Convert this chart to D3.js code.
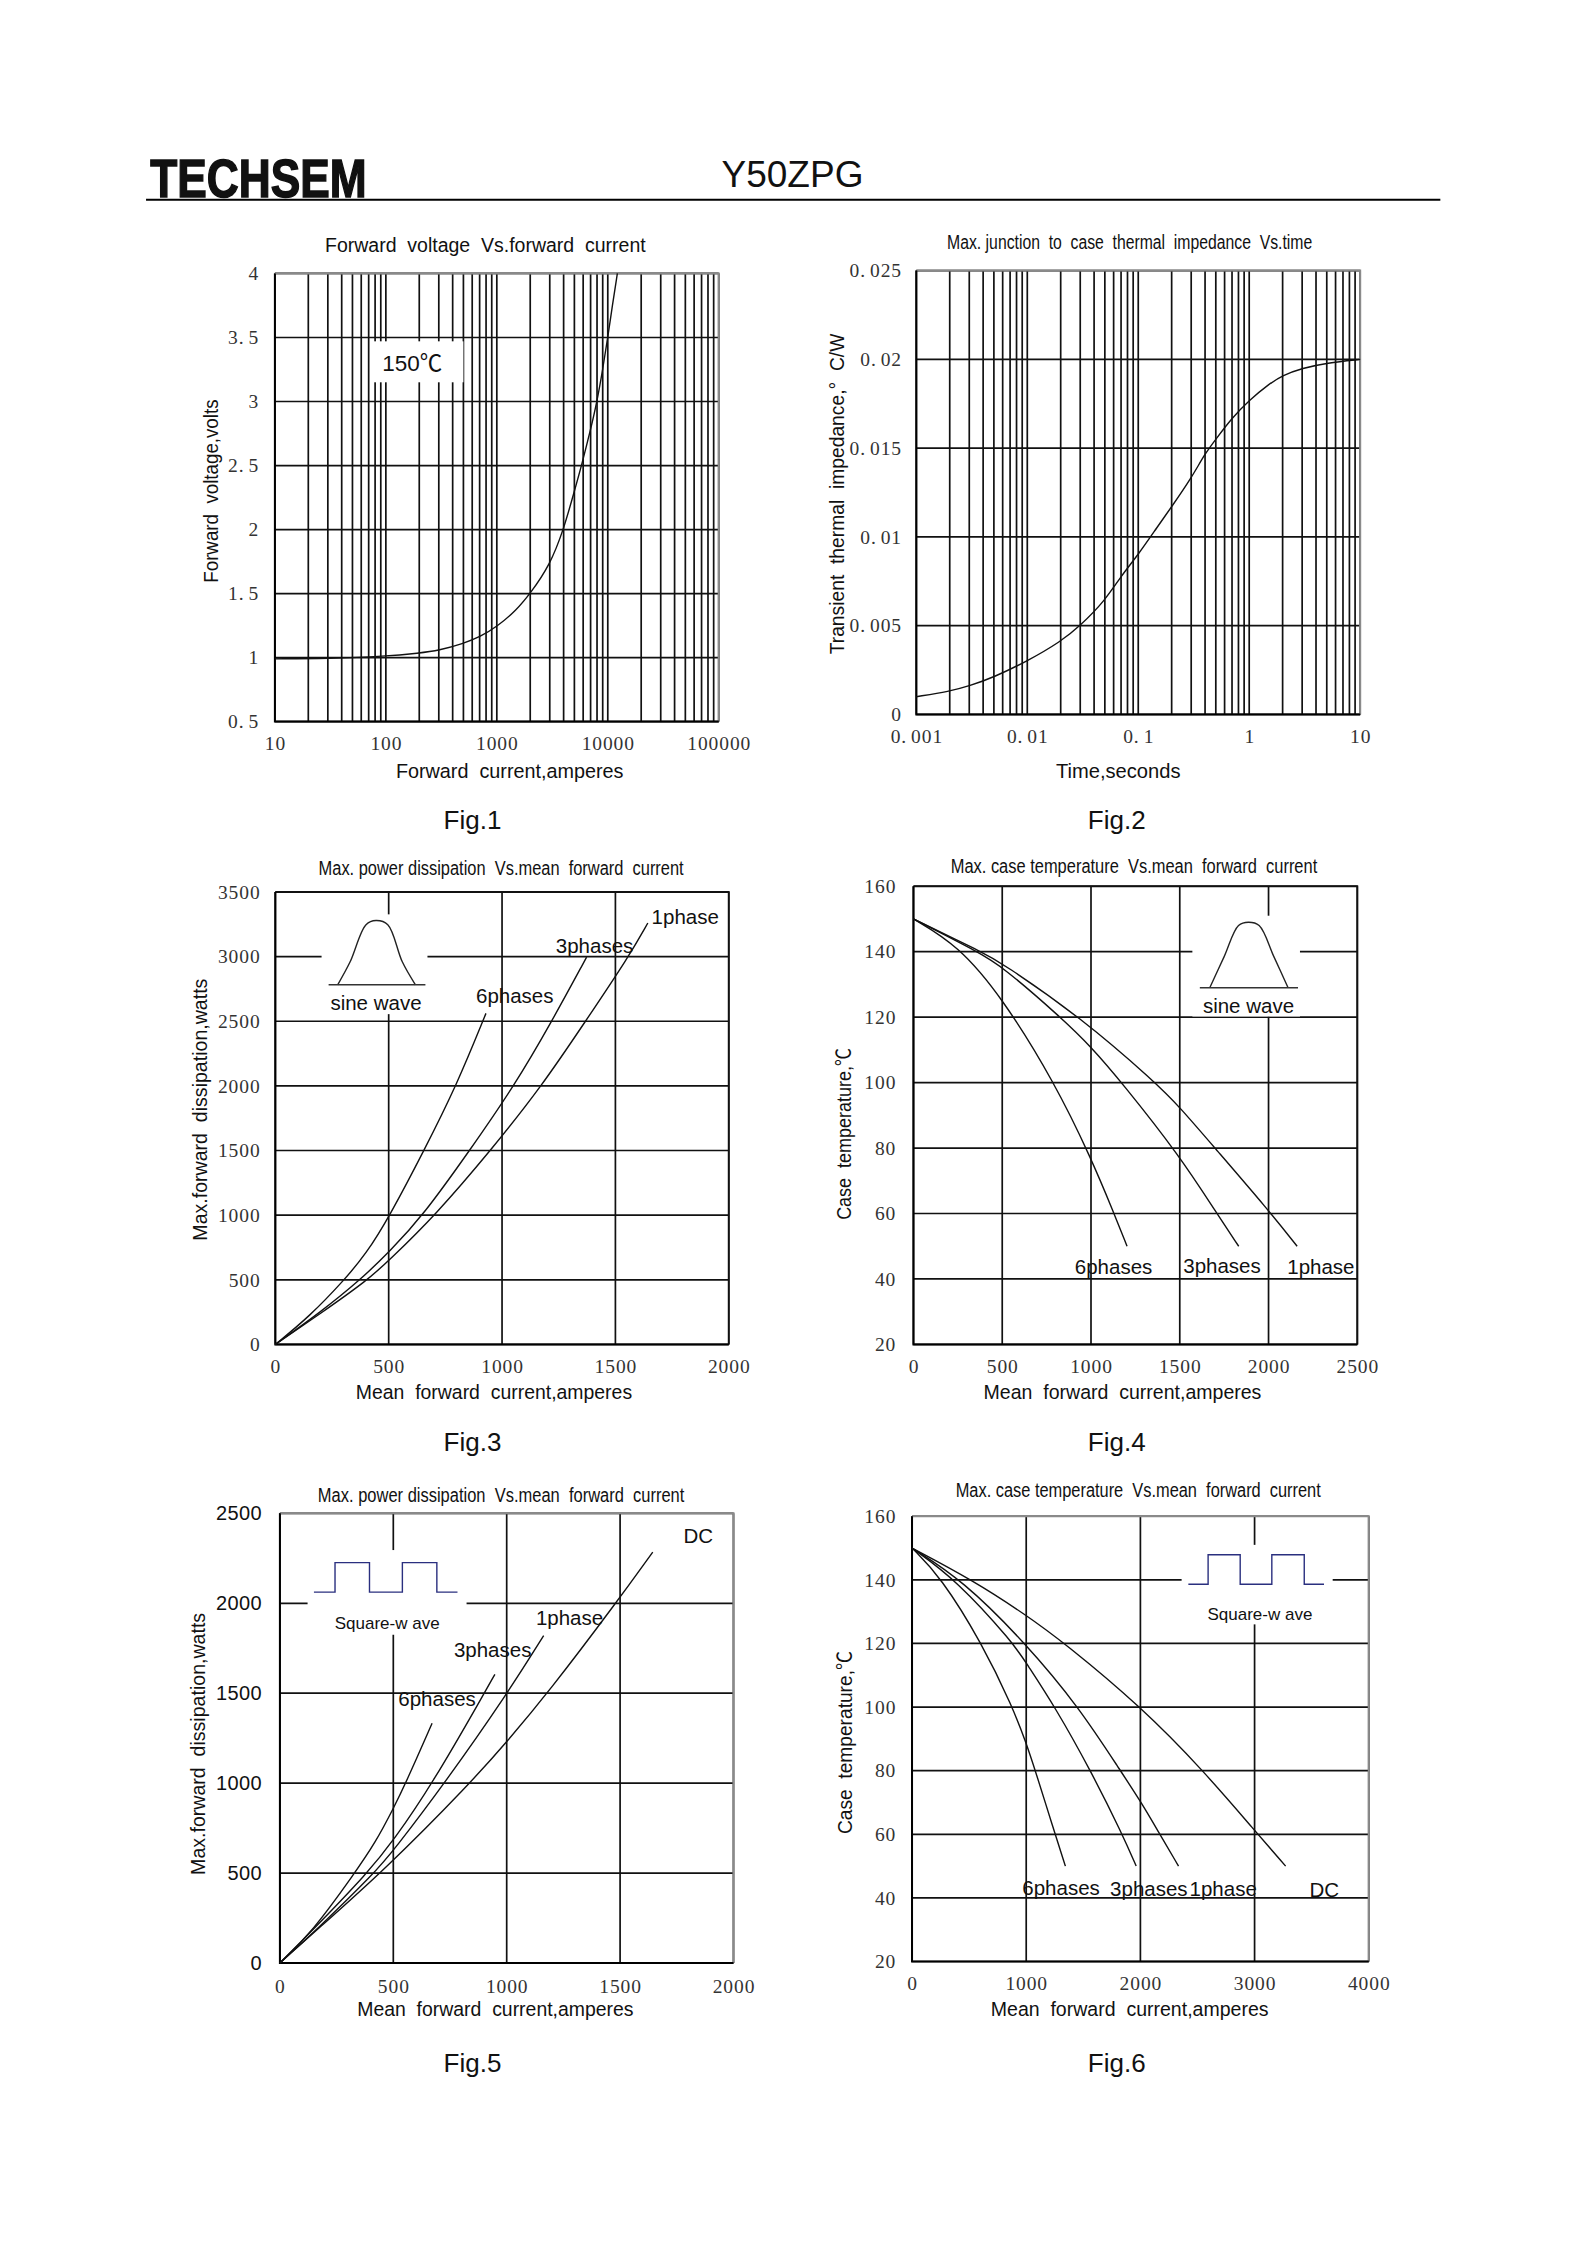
<!DOCTYPE html>
<html><head><meta charset="utf-8">
<script src="https://cdn.jsdelivr.net/npm/d3@7/dist/d3.min.js"></script>
<style>
html,body{margin:0;padding:0;background:#fff}
svg{display:block}
text{white-space:pre;fill:#111}
.sans{font-family:"Liberation Sans",Arial,"Noto Sans CJK SC",sans-serif}
.tick text{font-family:"Liberation Serif",serif;font-size:19.5px;letter-spacing:0.9px;fill:#333}
</style></head><body>
<svg id="page" width="1588" height="2245" xmlns="http://www.w3.org/2000/svg"></svg>
<script>
// ---- data ----
const fig1Curve = [[10,.99],[30,.993],[100,1.01],[200,1.035],[300,1.055],[500,1.11],[700,1.16],[1000,1.24],[1500,1.37],[2000,1.5],[3000,1.72],[4000,2],[5000,2.3],[5800,2.5],[7000,2.78],[8000,3],[9000,3.25],[10000,3.5],[11000,3.75],[12200,4]];
const fig2Curve = [[.001,.001],[.002,.0013],[.003,.0016],[.005,.0021],[.01,.003],[.02,.0041],[.03,.005],[.05,.0064],[.07,.0078],[.1,.009],[.15,.0106],[.2,.0117],[.3,.0133],[.4,.0147],[.5,.0155],[.7,.0167],[1,.0177],[1.5,.0186],[2,.0191],[3,.0195],[5,.0198],[10,.02]];
const fig3Phase6 = [[0,0],[150,215],[305,500],[400,700],[500,980],[653,1490],[801,2010],[929,2561]];
const fig3Phase3 = [[0,0],[200,250],[375,500],[502,714],[653,1000],[857,1500],[1054,2000],[1220,2500],[1373,2996]];
const fig3Phase1 = [[0,0],[200,240],[409,500],[502,651],[706,1000],[950,1500],[1176,2000],[1368,2500],[1559,3000],[1643,3260]];
const fig4Phase6 = [[0,150],[250,142],[500,126],[795,100],[1000,77],[1130,60],[1203,50]];
const fig4Phase3 = [[0,150],[361,140],[500,135.5],[829,120],[1000,111],[1174,100],[1500,77.6],[1709,60],[1832,50]];
const fig4Phase1 = [[0,150],[383,140],[500,136.5],[940,120],[1364,100],[1500,92.5],[1698,80],[2000,61],[2161,50]];
const fig5Phase6 = [[0,0],[141,170],[330,500],[421,669],[501,861],[555,1000],[671,1333]];
const fig5Phase3 = [[0,0],[150,190],[386,500],[501,680],[674,1000],[901,1500],[948,1605]];
const fig5Phase1 = [[0,0],[150,170],[421,505],[501,625],[727,1000],[1004,1500],[1163,1820]];
const fig5DC = [[0,0],[150,170],[456,510],[840,1000],[1004,1235],[1181,1500],[1486,2008],[1644,2285]];
const fig6Phase6 = [[0,150],[250,141],[613,120],[880,100],[997,89],[1080,80],[1236,62],[1343,50]];
const fig6Phase3 = [[0,150],[388,140],[890,120],[997,114],[1253,100],[1565,80],[1842,60],[1963,50]];
const fig6Phase1 = [[0,150],[440,140],[997,120],[1461,100],[1825,80],[2008,70],[2154,61],[2334,50]];
const fig6DC = [[0,150],[526,140],[997,129],[1340,120],[2008,100],[2552,80],[3005,61],[3272,50]];

const sineFig3 = [[275,2782],[330,2960],[400,3247],[444,3279],[496,3247],[560,2960],[618,2782]];
const sineFig4 = [[1669,129],[1750,138.5],[1831,148],[1887,149],[1947,148],[2030,138.5],[2110,129]];
const squareFig5 = [[150,2062],[243,2062],[243,2226],[395,2226],[395,2062],[540,2062],[540,2226],[692,2226],[692,2062],[783,2062]];
const squareFig6 = [[2420,138.6],[2593,138.6],[2593,147.9],[2874,147.9],[2874,138.6],[3151,138.6],[3151,147.9],[3435,147.9],[3435,138.6],[3608,138.6]];

const xTicksFig1 = [10,100,1000,10000,100000];
const xTicksFig2 = [.001,.01,.1,1,10];
const yTicksFig1 = [.5,1,1.5,2,2.5,3,3.5,4];
const yTicksFig2 = [0,.005,.01,.015,.02,.025];
const xTicks2000 = [0,500,1000,1500,2000];
const xTicks2500 = [0,500,1000,1500,2000,2500];
const xTicks4000 = [0,1000,2000,3000,4000];
const yTicksPower3500 = [0,500,1000,1500,2000,2500,3000,3500];
const yTicksPower2500 = [0,500,1000,1500,2000,2500];
const yTicksTemp = [20,40,60,80,100,120,140,160];

const k = 2245/1568; // layout given in overview units
const svg = d3.select('#page');
const SANS = '"Liberation Sans",Arial,"Noto Sans CJK SC",sans-serif';

function txt(s,x,y,size,opt={}){
  const t = svg.append('text').attr('class','sans').attr('x',x).attr('y',y).attr('font-size',size)
    .attr('text-anchor',opt.anchor||'middle').attr('dominant-baseline','central').text(s);
  if(opt.len) t.attr('textLength',opt.len);
  if(opt.glyphs) t.attr('lengthAdjust','spacingAndGlyphs');
  if(opt.rot) t.attr('transform',`rotate(-90 ${x} ${y})`);
  if(opt.fill) t.style('fill',opt.fill);
  return t;
}
// header
txt('TECHSEM',105*k,124*k,54,{anchor:'start',len:151*k,glyphs:true})
  .attr('font-weight','bold').style('stroke','#111').style('stroke-width','1.5px');
txt('Y50ZPG',553.5*k,122*k,37);
svg.append('line').attr('x1',102*k).attr('x2',1006*k).attr('y1',139.5*k).attr('y2',139.5*k).attr('stroke','#000').attr('stroke-width',2);

const lineGen = (x,y)=>d3.line().x(d=>x(d[0])).y(d=>y(d[1])).curve(d3.curveBasis);

function chart(c){
  const L=c.box[0]*k,R=c.box[1]*k,T=c.box[2]*k,B=c.box[3]*k;
  const x=(c.log?d3.scaleLog():d3.scaleLinear()).domain(c.xd).range([L,R]);
  const y=d3.scaleLinear().domain(c.yd).range([B,T]);
  const g=svg.append('g');
  // grid
  const xGrid=c.log?x.ticks():c.xt;
  const yGrid=c.yt;
  const grid=g.append('g').attr('stroke','#111').attr('stroke-width',1.7);
  grid.selectAll('.v').data(xGrid).join('line').attr('x1',d=>x(d)).attr('x2',d=>x(d)).attr('y1',T).attr('y2',B);
  grid.selectAll('.h').data(yGrid).join('line').attr('y1',d=>y(d)).attr('y2',d=>y(d)).attr('x1',L).attr('x2',R);
  // white masks that interrupt the grid
  (c.masks||[]).forEach(m=>{
    g.append('rect').attr('x',x(m[0])).attr('width',x(m[1])-x(m[0])).attr('y',y(m[3])).attr('height',y(m[2])-y(m[3])).attr('fill','#fff');
  });
  // frame
  const f=c.grayFrame?'#8a8a8a':'#111';
  g.append('path').attr('fill','none').attr('stroke',f).attr('stroke-width',c.grayFrame?2:1.8).attr('d',`M${L},${T}H${R}V${B}`);
  g.append('path').attr('fill','none').attr('stroke','#000').attr('stroke-width',2).attr('d',`M${L},${T}V${B}H${R}`);
  // curves
  c.curves.forEach(s=>g.append('path').attr('fill','none').attr('stroke','#111').attr('stroke-width',1.4).attr('d',lineGen(x,y)(s)));
  // inset wave
  if(c.wave){
    const w=c.wave;
    const gen=d3.line().x(d=>x(d[0])).y(d=>y(d[1])).curve(w.square?d3.curveLinear:d3.curveCatmullRom);
    g.append('path').attr('fill','none').attr('stroke',w.square?'#2a2f7f':'#222').attr('stroke-width',1.4).attr('d',gen(w.pts));
    if(w.base) g.append('line').attr('x1',x(w.base[0])).attr('x2',x(w.base[1])).attr('y1',y(w.base[2])).attr('y2',y(w.base[2])).attr('stroke','#333').attr('stroke-width',1.4);
    txt(w.label,x(w.lx),y(w.ly),w.size,{len:w.len});
  }
  // series labels
  (c.labels||[]).forEach(l=>txt(l[0],x(l[1]),y(l[2]),20.5));
  // axes
  const ax=d3.axisBottom(x).tickValues(c.xt).tickSize(0).tickPadding(0).tickFormat(d=>String(d));
  const ga=svg.append('g').attr('transform',`translate(0,${c.xTickY*k})`).call(ax);
  ga.select('.domain').remove();
  ga.selectAll('text').attr('y',0).attr('dy','0.35em');
  const ay=d3.axisLeft(y).tickValues(c.yt).tickSize(0).tickPadding(0).tickFormat(d=>String(d));
  const gy=svg.append('g').attr('transform',`translate(${c.yTickX*k},0)`).call(ay);
  gy.select('.domain').remove();
  gy.selectAll('text').attr('x',0);
  if(c.ySans) gy.selectAll('text').style('font-family',SANS).style('font-size','20px').style('letter-spacing','0.4px').style('fill','#111');
  // half-width dot of the original tick face
  [ga,gy].forEach(a=>a.selectAll('text').each(function(){
    const s=d3.select(this).text();
    if(s.includes('.')){const i=s.indexOf('.')+1;const e=d3.select(this).text(s.slice(0,i));e.append('tspan').attr('dx',4).text(s.slice(i));}
  }));
  // titles
  txt(c.title,c.t[0]*k,c.t[1]*k,c.tsize||20,{len:c.t[2]*k,glyphs:true});
  txt(c.xl,c.xlp[0]*k,c.xlp[1]*k,20.5,{len:c.xlp[2]*k,glyphs:true});
  txt(c.yl,c.ylp[0]*k,c.ylp[1]*k,20.5,{rot:true,len:c.ylp[2]*k,glyphs:true});
  txt(c.fig,c.figp[0]*k,c.figp[1]*k,26);
  if(c.note) txt(c.note[0],x(c.note[1]),y(c.note[2]),c.note[3]);
}

chart({box:[192,502,191,504],log:true,xd:[10,100000],yd:[.5,4],xt:xTicksFig1,yt:yTicksFig1,grayFrame:true,
  masks:[[76,500,3.15,3.47]],curves:[fig1Curve],note:['150℃',173,3.3,22.5],tsize:19.5,
  xTickY:519,yTickX:181,title:'Forward  voltage  Vs.forward  current',t:[339,171,224],xl:'Forward  current,amperes',xlp:[356,538,159],
  yl:'Forward  voltage,volts',ylp:[147,343,128],fig:'Fig.1',figp:[330,573]});
chart({box:[640,950,189,499],log:true,xd:[.001,10],yd:[0,.025],xt:xTicksFig2,yt:yTicksFig2,grayFrame:true,
  curves:[fig2Curve],xTickY:514,yTickX:630,title:'Max. junction  to  case  thermal  impedance  Vs.time',t:[789,169,255],
  xl:'Time,seconds',xlp:[781,538,87],yl:'Transient  thermal  impedance,°  C/W',ylp:[584,345,224],fig:'Fig.2',figp:[780,573]});
chart({box:[192.3,509,623,939],xd:[0,2000],yd:[0,3500],xt:xTicks2000,yt:yTicksPower3500,
  masks:[[204,671,2555,3327]],curves:[fig3Phase6,fig3Phase3,fig3Phase1],
  wave:{pts:sineFig3,base:[235,662,2782],label:'sine wave',lx:444,ly:2643,size:20.5},
  labels:[['1phase',1808,3310],['3phases',1408,3084],['6phases',1056,2703]],
  xTickY:954,yTickX:182,title:'Max. power dissipation  Vs.mean  forward  current',t:[350,606,255],xl:'Mean  forward  current,amperes',xlp:[345,972,193],
  yl:'Max.forward  dissipation,watts',ylp:[139,775,183],fig:'Fig.3',figp:[330,1007]});
chart({box:[638,948,619,939],xd:[0,2500],yd:[20,160],xt:xTicks2500,yt:yTicksTemp,
  masks:[[1571,2177,120.2,151]],curves:[fig4Phase6,fig4Phase3,fig4Phase1],
  wave:{pts:sineFig4,base:[1613,2166,129],label:'sine wave',lx:1887,ly:123.7,size:20.5},
  labels:[['6phases',1127,43.7],['3phases',1738,44.2],['1phase',2295,43.7]],
  xTickY:954,yTickX:626,title:'Max. case temperature  Vs.mean  forward  current',t:[792,605,256],xl:'Mean  forward  current,amperes',xlp:[784,972,194],
  yl:'Case  temperature,℃',ylp:[589,792,120],fig:'Fig.4',figp:[780,1007]});
chart({box:[195.5,512.3,1057,1371],xd:[0,2000],yd:[0,2500],xt:xTicks2000,yt:yTicksPower2500,grayFrame:true,ySans:true,
  masks:[[122,823,1825,2296]],curves:[fig5Phase6,fig5Phase3,fig5Phase1,fig5DC],
  wave:{pts:squareFig5,square:true,label:'Square-w ave',lx:473,ly:1886,size:17},
  labels:[['DC',1845,2375],['1phase',1277,1922],['3phases',938,1745],['6phases',693,1473]],
  xTickY:1387,yTickX:183,title:'Max. power dissipation  Vs.mean  forward  current',t:[350,1044,256],xl:'Mean  forward  current,amperes',xlp:[346,1403,193],
  yl:'Max.forward  dissipation,watts',ylp:[138,1218,183],fig:'Fig.5',figp:[330,1441]});
chart({box:[637,956,1059,1370],xd:[0,4000],yd:[20,160],xt:xTicks4000,yt:yTicksTemp,grayFrame:true,
  masks:[[2361,3684,126,151]],curves:[fig6Phase6,fig6Phase3,fig6Phase1,fig6DC],
  wave:{pts:squareFig6,square:true,label:'Square-w ave',lx:3047,ly:129,size:17},
  labels:[['6phases',1305,43.4],['3phases',2074,42.9],['1phase',2725,42.9],['DC',3611,42.6]],
  xTickY:1385,yTickX:626,title:'Max. case temperature  Vs.mean  forward  current',t:[795,1041,255],xl:'Mean  forward  current,amperes',xlp:[789,1403,194],
  yl:'Case  temperature,℃',ylp:[590,1217,128],fig:'Fig.6',figp:[780,1441]});
</script>
</body></html>
